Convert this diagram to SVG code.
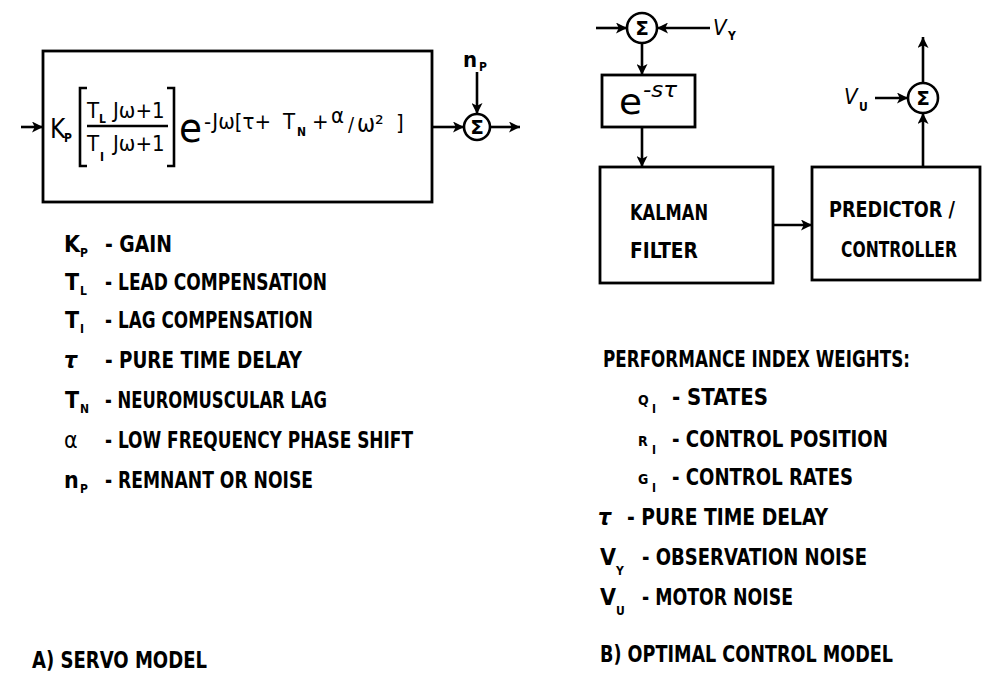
<svg xmlns="http://www.w3.org/2000/svg" width="983" height="681" viewBox="0 0 983 681">
<defs>
<marker id="ah" viewBox="0 0 10 10" refX="10" refY="5" markerWidth="11" markerHeight="11" markerUnits="userSpaceOnUse" orient="auto">
<path d="M0,0 L10,5 L0,10 L2.5,5 Z" fill="#000"/>
</marker>
</defs>
<style>
.bx{fill:none;stroke:#000;stroke-width:2.8}
.ln{fill:none;stroke:#000;stroke-width:2.6}
.c{fill:#fff;stroke:#000;stroke-width:2.6}
text{font-family:"DejaVu Sans Condensed","Liberation Sans Narrow","Liberation Sans",sans-serif;fill:#000;font-weight:bold}
.t{font-size:23px}
.b{font-size:21px}
.s{font-size:12px;font-weight:bold;font-style:normal}
.sig{font-size:20px;font-family:"DejaVu Sans","Liberation Sans",sans-serif}
.f{font-size:22px;font-weight:normal}
.nw{font-weight:normal}
.it{font-style:italic}
.sm{font-size:14px}
</style>
<rect width="983" height="681" fill="#fff"/>

<g id="servo-block">
<rect class="bx" x="43" y="51" width="389" height="151"/>
<text class="nw" x="50" y="138" font-size="26">K<tspan class="s" x="64" y="142">P</tspan></text>
<path class="ln" d="M87,88 H80 V166 H87"/>
<path class="ln" d="M167,88 H174 V166 H167"/>
<text class="f" x="87" y="118">T<tspan class="s" x="99" y="123">L</tspan><tspan x="113" y="118">Jω+1</tspan></text>
<line class="ln" x1="87" y1="126" x2="168" y2="126" stroke-width="2"/>
<text class="f" x="87" y="151">T<tspan class="s" x="100" y="161">I</tspan><tspan x="113" y="151">Jω+1</tspan></text>
<text class="nw" x="179" y="142" font-size="40" textLength="23" lengthAdjust="spacingAndGlyphs">e</text>
<text class="f" x="204" y="129">-Jω[τ+<tspan x="283">T</tspan><tspan class="s" x="297" y="136">N</tspan><tspan x="312" y="129">+</tspan><tspan x="331" y="123">α</tspan><tspan x="348" y="131" font-size="20">/</tspan><tspan x="357" y="132" font-size="24">ω²</tspan><tspan x="396" y="130">]</tspan></text>
</g>

<g id="servo-sum">
<circle class="c" cx="477" cy="127" r="13"/>
<text class="sig" x="477" y="134" text-anchor="middle">Σ</text>
<text x="463" y="67" font-size="22">n<tspan class="s" x="479" y="71">P</tspan></text>
</g>

<g id="connectors">
<line class="ln" x1="21" y1="127" x2="43" y2="127" marker-end="url(#ah)"/>
<line class="ln" x1="432" y1="127" x2="464" y2="127" marker-end="url(#ah)"/>
<line class="ln" x1="477" y1="72" x2="477" y2="114" marker-end="url(#ah)"/>
<line class="ln" x1="490" y1="127" x2="520" y2="127" marker-end="url(#ah)"/>
<line class="ln" x1="596" y1="28" x2="627" y2="28" marker-end="url(#ah)"/>
<line class="ln" x1="710" y1="28" x2="657" y2="28" marker-end="url(#ah)"/>
<line class="ln" x1="642" y1="43" x2="642" y2="75" marker-end="url(#ah)"/>
<line class="ln" x1="642" y1="127" x2="642" y2="167" marker-end="url(#ah)"/>
<line class="ln" x1="773" y1="225" x2="812" y2="225" marker-end="url(#ah)"/>
<line class="ln" x1="923" y1="167" x2="923" y2="113" marker-end="url(#ah)"/>
<line class="ln" x1="923" y1="83" x2="923" y2="37" marker-end="url(#ah)"/>
<line class="ln" x1="875" y1="98" x2="908" y2="98" marker-end="url(#ah)"/>
</g>

<g id="ocm-sum1">
<circle class="c" cx="642" cy="28" r="15"/>
<text class="sig" x="642" y="35" text-anchor="middle">Σ</text>
<text class="nw it" x="713" y="35" font-size="22">V<tspan class="s" x="728" y="40">Y</tspan></text>
</g>

<g id="delay">
<rect class="bx" x="602" y="75" width="93" height="52"/>
<text class="nw" x="619" y="114" font-size="36" textLength="23" lengthAdjust="spacingAndGlyphs">e</text>
<text class="nw it" x="643" y="97" font-size="22" textLength="34" lengthAdjust="spacingAndGlyphs">-sτ</text>
</g>

<g id="kalman">
<rect class="bx" x="600" y="167" width="173" height="116"/>
<text class="b" x="630" y="220" textLength="78" lengthAdjust="spacingAndGlyphs">KALMAN</text>
<text class="b" x="630" y="258" textLength="68" lengthAdjust="spacingAndGlyphs">FILTER</text>
</g>

<g id="predictor">
<rect class="bx" x="812" y="167" width="168" height="113"/>
<text class="b" x="829" y="217" textLength="126" lengthAdjust="spacingAndGlyphs">PREDICTOR /</text>
<text class="b" x="841" y="257" textLength="116" lengthAdjust="spacingAndGlyphs">CONTROLLER</text>
</g>

<g id="ocm-sum2">
<circle class="c" cx="923" cy="98" r="15"/>
<text class="sig" x="923" y="105" text-anchor="middle">Σ</text>
<text class="nw it" x="844" y="104" font-size="22">V<tspan class="s" x="859" y="111">U</tspan></text>
</g>

<g id="servo-legend">
<text class="t" x="64" y="252">K<tspan class="s" x="80" y="257">P</tspan></text>
<text class="t" x="105" y="252" textLength="67" lengthAdjust="spacingAndGlyphs">- GAIN</text>
<text class="t" x="65" y="290">T<tspan class="s" x="80" y="295">L</tspan></text>
<text class="t" x="105" y="290" textLength="222" lengthAdjust="spacingAndGlyphs">- LEAD COMPENSATION</text>
<text class="t" x="65" y="328">T<tspan class="s" x="80" y="333">I</tspan></text>
<text class="t" x="105" y="328" textLength="208" lengthAdjust="spacingAndGlyphs">- LAG COMPENSATION</text>
<text class="t it" x="64" y="368">τ</text>
<text class="t" x="105" y="368" textLength="197" lengthAdjust="spacingAndGlyphs">- PURE TIME DELAY</text>
<text class="t" x="65" y="408">T<tspan class="s" x="80" y="413">N</tspan></text>
<text class="t" x="105" y="408" textLength="222" lengthAdjust="spacingAndGlyphs">- NEUROMUSCULAR LAG</text>
<text class="t nw" x="64" y="448">α</text>
<text class="t" x="105" y="448" textLength="308" lengthAdjust="spacingAndGlyphs">- LOW FREQUENCY PHASE SHIFT</text>
<text class="t" x="64" y="488">n<tspan class="s" x="80" y="493">P</tspan></text>
<text class="t" x="105" y="488" textLength="208" lengthAdjust="spacingAndGlyphs">- REMNANT OR NOISE</text>
<text class="t" x="32" y="668" textLength="175" lengthAdjust="spacingAndGlyphs">A)  SERVO MODEL</text>
</g>

<g id="ocm-legend">
<text class="t" x="603" y="367" textLength="307" lengthAdjust="spacingAndGlyphs">PERFORMANCE INDEX WEIGHTS:</text>
<text class="sm" x="638" y="405">Q<tspan class="s" x="652" y="413">I</tspan></text>
<text class="t" x="672" y="405" textLength="96" lengthAdjust="spacingAndGlyphs">- STATES</text>
<text class="sm" x="638" y="446">R<tspan class="s" x="652" y="454">I</tspan></text>
<text class="t" x="672" y="447" textLength="216" lengthAdjust="spacingAndGlyphs">- CONTROL POSITION</text>
<text class="sm" x="638" y="484">G<tspan class="s" x="652" y="492">I</tspan></text>
<text class="t" x="672" y="485" textLength="181" lengthAdjust="spacingAndGlyphs">- CONTROL RATES</text>
<text class="t it" x="598" y="525">τ</text>
<text class="t" x="627" y="525" textLength="201" lengthAdjust="spacingAndGlyphs">- PURE TIME DELAY</text>
<text class="t" x="600" y="565">V<tspan class="s" x="616" y="575">Y</tspan></text>
<text class="t" x="642" y="565" textLength="225" lengthAdjust="spacingAndGlyphs">- OBSERVATION NOISE</text>
<text class="t" x="600" y="605">V<tspan class="s" x="616" y="615">U</tspan></text>
<text class="t" x="642" y="605" textLength="151" lengthAdjust="spacingAndGlyphs">- MOTOR NOISE</text>
<text class="t" x="600" y="662" textLength="293" lengthAdjust="spacingAndGlyphs">B)  OPTIMAL CONTROL MODEL</text>
</g>
</svg>
